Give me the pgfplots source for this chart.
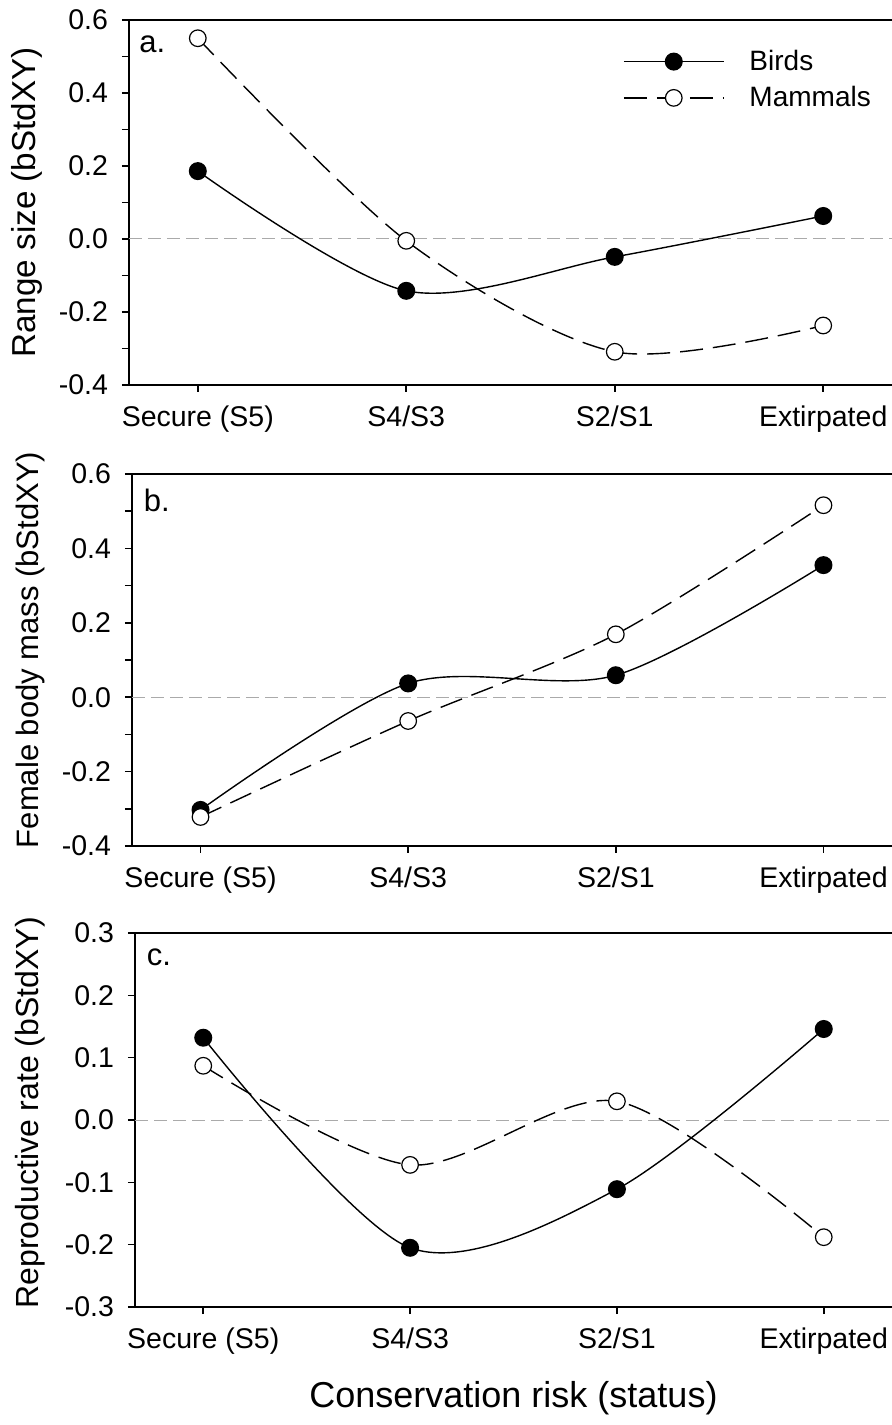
\documentclass[border=0pt]{standalone}
\usepackage{fontspec}
\setmainfont{Liberation Sans}
\usepackage{pgfplots}
\pgfplotsset{compat=1.18}
\definecolor{zerogray}{RGB}{170,170,170}
\tikzset{zeroline/.style={zerogray, line width=0.5pt, dash pattern=on 6.5pt off 3pt}}
\pgfplotsset{
 panel/.style={
  scale only axis, clip=false,
  xmin=-0.33, xmax=3.33,
  axis lines=left, axis line style={-, line width=0.9pt},
  xtick={0,1,2,3}, xticklabels={Secure (S5),S4/S3,S2/S1,Extirpated},
  tick align=outside, major tick length=3.5pt, minor tick length=3.5pt,
  tick style={line width=0.8pt, black},
  /pgf/number format/assume math mode=true,
  yticklabel style={/pgf/number format/fixed, /pgf/number format/fixed zerofill, /pgf/number format/precision=1, xshift=-3.5pt},
  xticklabel style={yshift=-3.5pt},
  ticklabel style={font=\fontsize{14.25}{16}\selectfont},
  ylabel style={anchor=center},
 },
 birds/.style={black, line width=0.7pt, smooth, mark=*, mark size=4.15pt, mark options={solid, fill=black}},
 mammals/.style={black, line width=0.7pt, smooth, dash pattern=on 11.5pt off 5pt, mark=*, mark size=4.15pt, mark options={solid, fill=white, line width=0.6pt}},
}
\begin{document}
\begin{tikzpicture}
\path[use as bounding box] (0,0) rectangle (445.5pt,712.5pt);
% Panel a
\begin{axis}[panel, at={(64.5pt,520pt)}, anchor=south west, width=381.5pt, height=182.5pt,
  ymin=-0.4, ymax=0.6, ytick={-0.4,-0.2,0,0.2,0.4,0.6}, minor y tick num=1,
  ylabel={Range size (bStdXY)}, ylabel style={font=\fontsize{16.6}{18}\selectfont, at={(axis description cs:-0.1337,0.5)}},
  legend style={draw=none, fill=none, at={(rel axis cs:0.647,0.93)}, anchor=north west,
    font=\fontsize{14}{16}\selectfont, inner sep=0pt, row sep=2.5pt, column sep=10.5pt},
  legend cell align=left,
  legend image code/.code={\draw[mark repeat=2,mark phase=2] plot coordinates {(0pt,0pt) (25pt,0pt) (50pt,0pt)};},
]
\draw[zeroline] (axis cs:-0.33,0) -- (axis cs:3.33,0);
\draw[line width=0.9pt] (rel axis cs:0,1) -- (rel axis cs:1,1);
\addplot[birds] coordinates {(0,0.186) (1,-0.142) (2,-0.049) (3,0.063)};
\addlegendentry{Birds}
\addplot[mammals] coordinates {(0,0.550) (1,-0.005) (2,-0.309) (3,-0.237)};
\addlegendentry{Mammals}
\node[anchor=base west, inner sep=0pt, font=\fontsize{15.5}{17}\selectfont] at (rel axis cs:0.013,0.912) {a.};
\end{axis}
% Panel b
\begin{axis}[panel, at={(66pt,289.5pt)}, anchor=south west, width=380pt, height=186pt,
  ymin=-0.4, ymax=0.6, ytick={-0.4,-0.2,0,0.2,0.4,0.6}, minor y tick num=1,
  ylabel={Female body mass (bStdXY)}, ylabel style={font=\fontsize{15.5}{18}\selectfont, at={(axis description cs:-0.1342,0.527)}},
]
\draw[zeroline] (axis cs:-0.33,0) -- (axis cs:3.33,0);
\draw[line width=0.9pt] (rel axis cs:0,1) -- (rel axis cs:1,1);
\addplot[birds] coordinates {(0,-0.303) (1,0.037) (2,0.059) (3,0.355)};
\addplot[mammals] coordinates {(0,-0.322) (1,-0.064) (2,0.169) (3,0.516)};
\node[anchor=base west, inner sep=0pt, font=\fontsize{15.5}{17}\selectfont] at (rel axis cs:0.015,0.898) {b.};
\end{axis}
% Panel c
\begin{axis}[panel, at={(67.5pt,59pt)}, anchor=south west, width=378.5pt, height=187pt,
  ymin=-0.3, ymax=0.3, ytick={-0.3,-0.2,-0.1,0,0.1,0.2,0.3},
  ylabel={Reproductive rate (bStdXY)}, ylabel style={font=\fontsize{16}{18}\selectfont, at={(axis description cs:-0.1387,0.519)}},
  xlabel={Conservation risk (status)},
  xlabel style={font=\fontsize{18}{20}\selectfont, at={(axis description cs:0.5,-0.2433)}, anchor=center},
]
\draw[zeroline] (axis cs:-0.33,0) -- (axis cs:3.33,0);
\draw[line width=0.9pt] (rel axis cs:0,1) -- (rel axis cs:1,1);
\addplot[birds] coordinates {(0,0.132) (1,-0.205) (2,-0.111) (3,0.146)};
\addplot[mammals] coordinates {(0,0.087) (1,-0.072) (2,0.030) (3,-0.188)};
\node[anchor=base west, inner sep=0pt, font=\fontsize{15.5}{17}\selectfont] at (rel axis cs:0.015,0.914) {c.};
\end{axis}
\end{tikzpicture}
\end{document}
